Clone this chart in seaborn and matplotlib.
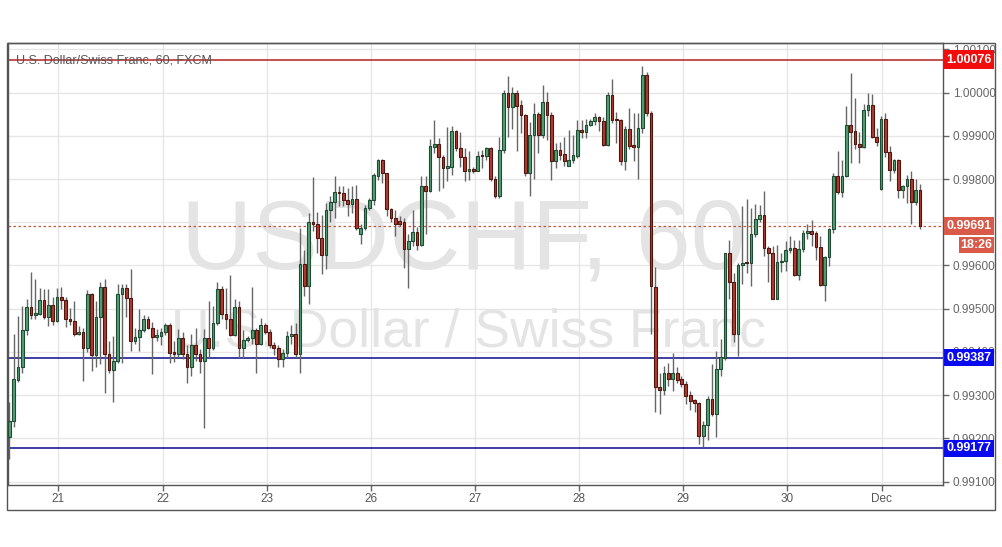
import numpy as np
import pandas as pd
import matplotlib
matplotlib.use("Agg")
import matplotlib.pyplot as plt
import matplotlib.transforms as mtransforms
from matplotlib.patches import Rectangle
import seaborn as sns

# ---------------- data (USD/CHF, 60 min candles) ----------------
opens = [
    0.99202, 0.99241, 0.99335, 0.99366, 0.99450, 0.99504, 0.99486, 0.99488, 0.99519, 0.99481,
    0.99508, 0.99472, 0.99528, 0.99519, 0.99475, 0.99472, 0.99442, 0.99445, 0.99408, 0.99533,
    0.99392, 0.99481, 0.99551, 0.99395, 0.99357, 0.99378, 0.99535, 0.99547, 0.99525, 0.99425,
    0.99435, 0.99450, 0.99477, 0.99455, 0.99435, 0.99437, 0.99446, 0.99463, 0.99399, 0.99396,
    0.99433, 0.99395, 0.99366, 0.99417, 0.99395, 0.99379, 0.99433, 0.99408, 0.99468, 0.99546,
    0.99488, 0.99477, 0.99440, 0.99504, 0.99408, 0.99427, 0.99432, 0.99450, 0.99419, 0.99463,
    0.99445, 0.99415, 0.99408, 0.99383, 0.99397, 0.99436, 0.99441, 0.99395, 0.99604, 0.99552,
    0.99700, 0.99696, 0.99664, 0.99624, 0.99728, 0.99746, 0.99771, 0.99768, 0.99752, 0.99742,
    0.99754, 0.99672, 0.99687, 0.99733, 0.99751, 0.99808, 0.99845, 0.99814, 0.99731, 0.99710,
    0.99702, 0.99700, 0.99638, 0.99656, 0.99677, 0.99648, 0.99785, 0.99772, 0.99875, 0.99881,
    0.99852, 0.99825, 0.99829, 0.99912, 0.99872, 0.99851, 0.99818, 0.99823, 0.99819, 0.99854,
    0.99853, 0.99872, 0.99800, 0.99762, 0.99868, 1.00000, 0.99968, 1.00000, 0.99972, 0.99948,
    0.99814, 0.99901, 0.99951, 0.99902, 0.99979, 0.99948, 0.99841, 0.99868, 0.99858, 0.99831,
    0.99845, 0.99854, 0.99914, 0.99908, 0.99925, 0.99935, 0.99943, 0.99935, 0.99879, 0.99995,
    0.99937, 0.99937, 0.99843, 0.99915, 0.99879, 0.99874, 0.99918, 1.00041, 0.99954, 0.99551,
    0.99318, 0.99312, 0.99351, 0.99338, 0.99351, 0.99337, 0.99325, 0.99300, 0.99289, 0.99281,
    0.99206, 0.99231, 0.99291, 0.99256, 0.99360, 0.99385, 0.99628, 0.99562, 0.99441, 0.99602,
    0.99608, 0.99605, 0.99672, 0.99708, 0.99718, 0.99641, 0.99629, 0.99523, 0.99609, 0.99610,
    0.99635, 0.99641, 0.99578, 0.99638, 0.99675, 0.99679, 0.99675, 0.99643, 0.99554, 0.99620,
    0.99685, 0.99806, 0.99769, 0.99806, 0.99925, 0.99912, 0.99881, 0.99875, 0.99960, 0.99971,
    0.99898, 0.99777, 0.99938, 0.99862, 0.99820, 0.99845, 0.99775, 0.99783, 0.99800, 0.99746,
    0.99775,
]
highs = [
    0.99283, 0.99441, 0.99483, 0.99506, 0.99522, 0.99585, 0.99569, 0.99548, 0.99545, 0.99545,
    0.99527, 0.99548, 0.99551, 0.99528, 0.99502, 0.99517, 0.99460, 0.99456, 0.99543, 0.99537,
    0.99517, 0.99562, 0.99568, 0.99425, 0.99437, 0.99558, 0.99558, 0.99558, 0.99591, 0.99456,
    0.99500, 0.99486, 0.99483, 0.99469, 0.99452, 0.99456, 0.99466, 0.99466, 0.99425, 0.99454,
    0.99445, 0.99415, 0.99441, 0.99455, 0.99406, 0.99452, 0.99517, 0.99506, 0.99562, 0.99552,
    0.99548, 0.99577, 0.99522, 0.99517, 0.99450, 0.99437, 0.99551, 0.99455, 0.99479, 0.99468,
    0.99452, 0.99423, 0.99415, 0.99406, 0.99448, 0.99462, 0.99466, 0.99687, 0.99635, 0.99722,
    0.99804, 0.99723, 0.99718, 0.99745, 0.99760, 0.99808, 0.99785, 0.99783, 0.99779, 0.99783,
    0.99787, 0.99695, 0.99741, 0.99756, 0.99814, 0.99846, 0.99846, 0.99815, 0.99733, 0.99728,
    0.99714, 0.99710, 0.99672, 0.99729, 0.99690, 0.99806, 0.99806, 0.99892, 0.99937, 0.99895,
    0.99856, 0.99920, 0.99923, 0.99913, 0.99910, 0.99872, 0.99864, 0.99829, 0.99864, 0.99868,
    0.99875, 0.99875, 0.99806, 0.99898, 1.00006, 1.00038, 1.00014, 1.00006, 0.99983, 0.99950,
    0.99933, 0.99975, 0.99956, 1.00018, 1.00002, 0.99956, 0.99883, 0.99887, 0.99898, 0.99914,
    0.99902, 0.99937, 0.99937, 0.99938, 0.99938, 0.99954, 0.99946, 0.99943, 1.00002, 1.00031,
    0.99956, 0.99939, 0.99923, 0.99964, 0.99954, 0.99954, 1.00062, 1.00048, 0.99958, 0.99597,
    0.99352, 0.99368, 0.99374, 0.99397, 0.99364, 0.99345, 0.99333, 0.99310, 0.99291, 0.99283,
    0.99241, 0.99298, 0.99372, 0.99402, 0.99429, 0.99629, 0.99658, 0.99583, 0.99605, 0.99737,
    0.99754, 0.99733, 0.99743, 0.99741, 0.99772, 0.99646, 0.99645, 0.99648, 0.99629, 0.99656,
    0.99668, 0.99658, 0.99660, 0.99683, 0.99697, 0.99706, 0.99679, 0.99668, 0.99622, 0.99687,
    0.99815, 0.99864, 0.99845, 0.99969, 1.00045, 0.99987, 0.99908, 0.99974, 1.00000, 0.99997,
    0.99918, 0.99945, 0.99954, 0.99877, 0.99846, 0.99846, 0.99787, 0.99810, 0.99819, 0.99800,
    0.99789,
]
lows = [
    0.99152, 0.99225, 0.99331, 0.99352, 0.99438, 0.99475, 0.99477, 0.99486, 0.99475, 0.99460,
    0.99462, 0.99470, 0.99500, 0.99458, 0.99462, 0.99437, 0.99440, 0.99333, 0.99400, 0.99356,
    0.99364, 0.99372, 0.99306, 0.99352, 0.99283, 0.99374, 0.99374, 0.99480, 0.99402, 0.99418,
    0.99402, 0.99445, 0.99452, 0.99348, 0.99425, 0.99415, 0.99440, 0.99375, 0.99376, 0.99385,
    0.99383, 0.99329, 0.99345, 0.99379, 0.99350, 0.99223, 0.99385, 0.99404, 0.99462, 0.99477,
    0.99452, 0.99437, 0.99437, 0.99385, 0.99385, 0.99423, 0.99418, 0.99352, 0.99415, 0.99441,
    0.99410, 0.99392, 0.99364, 0.99364, 0.99385, 0.99418, 0.99385, 0.99352, 0.99529, 0.99512,
    0.99679, 0.99629, 0.99581, 0.99592, 0.99700, 0.99710, 0.99737, 0.99737, 0.99715, 0.99722,
    0.99683, 0.99650, 0.99683, 0.99729, 0.99741, 0.99798, 0.99792, 0.99715, 0.99700, 0.99668,
    0.99691, 0.99595, 0.99548, 0.99645, 0.99637, 0.99645, 0.99672, 0.99770, 0.99860, 0.99772,
    0.99779, 0.99795, 0.99810, 0.99864, 0.99829, 0.99795, 0.99797, 0.99814, 0.99818, 0.99825,
    0.99845, 0.99795, 0.99756, 0.99756, 0.99860, 0.99898, 0.99917, 0.99864, 0.99906, 0.99808,
    0.99760, 0.99800, 0.99860, 0.99895, 0.99891, 0.99798, 0.99825, 0.99845, 0.99831, 0.99830,
    0.99838, 0.99848, 0.99895, 0.99896, 0.99922, 0.99925, 0.99912, 0.99877, 0.99877, 0.99929,
    0.99883, 0.99833, 0.99820, 0.99869, 0.99843, 0.99800, 0.99906, 0.99946, 0.99441, 0.99260,
    0.99256, 0.99300, 0.99322, 0.99310, 0.99329, 0.99318, 0.99279, 0.99266, 0.99260, 0.99187,
    0.99179, 0.99195, 0.99252, 0.99202, 0.99345, 0.99382, 0.99523, 0.99423, 0.99391, 0.99556,
    0.99583, 0.99552, 0.99666, 0.99700, 0.99623, 0.99562, 0.99522, 0.99523, 0.99585, 0.99587,
    0.99629, 0.99575, 0.99566, 0.99631, 0.99662, 0.99645, 0.99612, 0.99552, 0.99518, 0.99598,
    0.99675, 0.99766, 0.99758, 0.99805, 0.99837, 0.99869, 0.99838, 0.99872, 0.99946, 0.99895,
    0.99877, 0.99775, 0.99852, 0.99795, 0.99814, 0.99756, 0.99756, 0.99745, 0.99695, 0.99741,
    0.99685,
]
closes = [
    0.99241, 0.99337, 0.99366, 0.99450, 0.99504, 0.99486, 0.99489, 0.99519, 0.99481, 0.99508,
    0.99472, 0.99528, 0.99519, 0.99475, 0.99472, 0.99442, 0.99445, 0.99408, 0.99533, 0.99392,
    0.99481, 0.99551, 0.99395, 0.99357, 0.99378, 0.99535, 0.99547, 0.99525, 0.99425, 0.99435,
    0.99450, 0.99477, 0.99455, 0.99435, 0.99438, 0.99446, 0.99463, 0.99398, 0.99396, 0.99433,
    0.99395, 0.99366, 0.99417, 0.99395, 0.99379, 0.99433, 0.99408, 0.99468, 0.99546, 0.99488,
    0.99477, 0.99440, 0.99504, 0.99408, 0.99427, 0.99432, 0.99450, 0.99419, 0.99463, 0.99445,
    0.99415, 0.99408, 0.99383, 0.99397, 0.99436, 0.99441, 0.99395, 0.99604, 0.99552, 0.99700,
    0.99695, 0.99664, 0.99624, 0.99729, 0.99746, 0.99771, 0.99767, 0.99752, 0.99742, 0.99754,
    0.99687, 0.99687, 0.99733, 0.99752, 0.99810, 0.99845, 0.99814, 0.99731, 0.99710, 0.99696,
    0.99696, 0.99638, 0.99656, 0.99677, 0.99648, 0.99785, 0.99772, 0.99877, 0.99881, 0.99852,
    0.99825, 0.99831, 0.99912, 0.99872, 0.99851, 0.99818, 0.99823, 0.99819, 0.99854, 0.99853,
    0.99872, 0.99800, 0.99762, 0.99868, 1.00000, 0.99968, 1.00000, 0.99969, 0.99948, 0.99814,
    0.99902, 0.99951, 0.99902, 0.99979, 0.99948, 0.99841, 0.99868, 0.99856, 0.99843, 0.99845,
    0.99856, 0.99914, 0.99908, 0.99925, 0.99935, 0.99943, 0.99935, 0.99879, 0.99995, 0.99937,
    0.99936, 0.99843, 0.99915, 0.99877, 0.99874, 0.99918, 1.00041, 0.99954, 0.99552, 0.99318,
    0.99312, 0.99351, 0.99338, 0.99351, 0.99335, 0.99325, 0.99298, 0.99287, 0.99281, 0.99206,
    0.99231, 0.99291, 0.99256, 0.99360, 0.99388, 0.99628, 0.99562, 0.99441, 0.99602, 0.99605,
    0.99605, 0.99672, 0.99708, 0.99718, 0.99641, 0.99629, 0.99523, 0.99609, 0.99610, 0.99635,
    0.99641, 0.99578, 0.99638, 0.99675, 0.99679, 0.99674, 0.99643, 0.99554, 0.99620, 0.99685,
    0.99806, 0.99769, 0.99806, 0.99925, 0.99910, 0.99881, 0.99875, 0.99960, 0.99971, 0.99898,
    0.99885, 0.99938, 0.99862, 0.99820, 0.99845, 0.99775, 0.99783, 0.99800, 0.99746, 0.99775,
    0.99691,
]

day_labels = ["21", "22", "23", "26", "27", "28", "29", "30", "Dec"]
day_candle_pos = [11.3, 35.35, 59.35, 83.35, 107.3, 131.3, 155.3, 179.3, 201.2]
price_ticks = [0.99100, 0.99200, 0.99300, 0.99400, 0.99500, 0.99600,
               0.99700, 0.99800, 0.99900, 1.00000, 1.00100]
resistance = 1.00076
support_hi = 0.99387
support_lo = 0.99177
last_price = 0.99691
countdown = "18:26"
title_text = "U.S. Dollar/Swiss Franc, 60, FXCM"
wm_symbol = "USDCHF, 60"
wm_name = "U.S. Dollar / Swiss Franc"

# ---------------- styling ----------------
sns.set_theme(style="white")
plt.rcParams['font.family'] = ['Liberation Sans', 'DejaVu Sans']

df = pd.DataFrame({"open": opens, "high": highs, "low": lows, "close": closes})
df["t"] = np.arange(len(df))
df["up"] = df["close"] >= df["open"]
df["body_lo"] = df[["open", "close"]].min(axis=1)
df["body_h"] = (df["close"] - df["open"]).abs().clip(lower=0.000025)

W, H = 1002, 547
fig = plt.figure(figsize=(W / 100, H / 100), dpi=100)
fig.patch.set_facecolor("white")
ax = fig.add_axes([8 / W, 62 / H, 935 / W, 442 / H])
ax.set_facecolor("white")

ax.set_xlim(-0.3, 215.3)
ax.set_ylim(0.990919, 1.001150)

# grid
for p in price_ticks:
    ax.axhline(p, color="#e6e6e6", lw=1, zorder=0)
for d in day_candle_pos:
    ax.axvline(d, color="#e6e6e6", lw=1, zorder=0)

# watermark
ax.text(0.487, 0.548, wm_symbol, transform=ax.transAxes, fontsize=71,
        color="#e4e4e4", ha="center", va="center", zorder=0.5)
ax.text(0.492, 0.345, wm_name, transform=ax.transAxes, fontsize=38.5,
        color="#e4e4e4", ha="center", va="center", zorder=0.5)

# level lines
ax.axhline(resistance, color="#b22222", lw=1.1, zorder=1)
ax.axhline(support_hi, color="#0a0a8a", lw=1.1, zorder=1)
ax.axhline(support_lo, color="#0a0a8a", lw=1.1, zorder=1)
ax.axhline(last_price, color="#c8553f", lw=0.9, ls=(0, (2, 2)), zorder=1)

# candles
ax.vlines(df["t"], df["low"], df["high"], color="#666666", lw=1, zorder=2)
up = df[df["up"]]
dn = df[~df["up"]]
ax.bar(up["t"], up["body_h"], bottom=up["body_lo"], width=0.62,
       color="#529f73", edgecolor="#1f4a33", linewidth=0.8, zorder=3)
ax.bar(dn["t"], dn["body_h"], bottom=dn["body_lo"], width=0.62,
       color="#b23a2d", edgecolor="#4f1610", linewidth=0.8, zorder=3)

# title label
ax.text(8.5 / 935, 1 - (60.5 - 43) / 442, title_text, transform=ax.transAxes,
        fontsize=9, color="#555555", ha="left", va="center", zorder=4)

# axes styling
for s in ax.spines.values():
    s.set_color("#555555")
    s.set_linewidth(1)
ax.yaxis.tick_right()
ax.set_yticks(price_ticks)
# the 0.99700 label sits fully under the live-price tag in the reference
ax.set_yticklabels(["" if abs(p - 0.997) < 1e-9 else f"{p:.5f}" for p in price_ticks])
ax.tick_params(axis="y", right=True, left=False, length=4, width=1,
               color="#666666", labelcolor="#666666", labelsize=8.5, pad=3)
ax.set_xticks(day_candle_pos)
ax.set_xticklabels(day_labels)
ax.tick_params(axis="x", bottom=True, length=4, width=1, color="#666666",
               labelcolor="#555555", labelsize=8.5, pad=2)
for lab in ax.get_xticklabels():
    lab.set_family(["Liberation Sans Narrow", "Liberation Sans", "DejaVu Sans"])

# price boxes on the axis
bt = mtransforms.blended_transform_factory(fig.transFigure, ax.transData)
px = (1.001150 - 0.990919) / 442  # price per pixel


def price_box(y, text, face, x0=944, x1=994, h=18, dy=0.0):
    yc = y + dy
    ax.add_patch(Rectangle((x0 / W, yc - h / 2 * px), (x1 - x0) / W, h * px,
                           transform=bt, facecolor=face, edgecolor="none",
                           clip_on=False, zorder=6))
    ax.text((x0 + x1) / 2 / W, yc, text, transform=bt, color="white",
            fontsize=9, fontweight="bold", ha="center", va="center",
            clip_on=False, zorder=7)


price_box(resistance, f"{resistance:.5f}", "#f20d0d", h=19)
price_box(last_price, f"{last_price:.5f}", "#d95a48", h=18, dy=-0.3 * px)
price_box(last_price, countdown, "#d95a48", x0=959, h=16, dy=-18.5 * px)
price_box(support_hi, f"{support_hi:.5f}", "#0a0af0", h=17)
price_box(support_lo, f"{support_lo:.5f}", "#0a0af0", h=17)

# outer frame
fig.add_artist(Rectangle((7 / W, (H - 510) / H), (995 - 7) / W, (510 - 43) / H,
                         transform=fig.transFigure, fill=False,
                         edgecolor="#555555", lw=1))

fig.savefig("out.png", dpi=100, facecolor="white")
